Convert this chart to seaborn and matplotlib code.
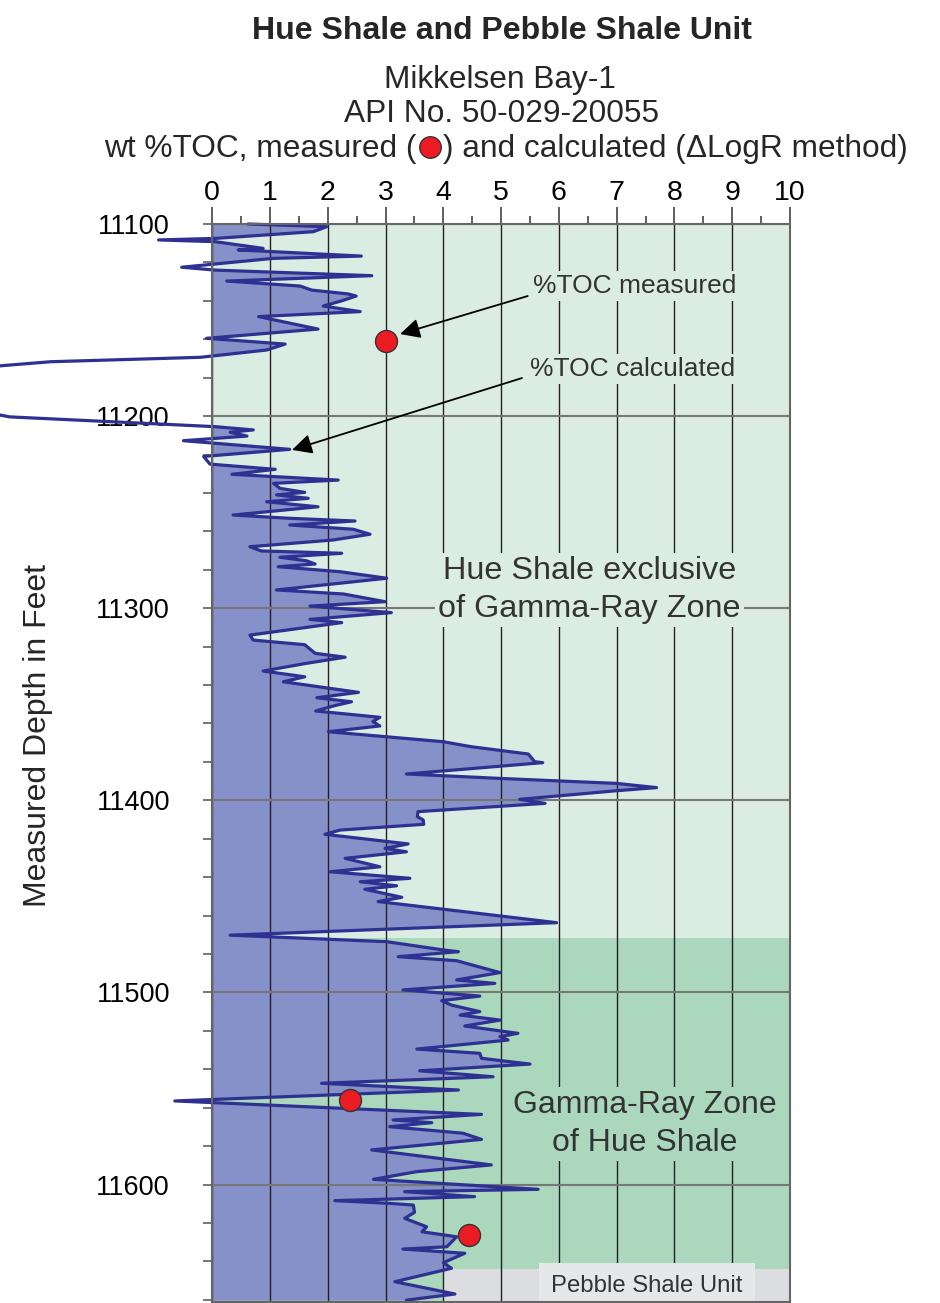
import matplotlib
matplotlib.use("Agg")
import matplotlib.pyplot as plt
import seaborn as sns
from matplotlib.lines import Line2D
from matplotlib.ticker import MultipleLocator

depth = [11100.0, 11101.4, 11104.0, 11107.5, 11108.3, 11109.2, 11112.7, 11113.5, 11116.7, 11117.9,
         11122.5, 11124.0, 11126.9, 11129.7, 11132.3, 11134.4, 11136.4, 11137.5, 11140.0, 11142.7,
         11145.6, 11148.2, 11154.7, 11159.5, 11162.5, 11165.6, 11169.4, 11171.7, 11173.9, 11186.0,
         11200.4, 11205.5, 11207.2, 11208.4, 11210.4, 11212.8, 11217.3, 11221.0, 11225.0, 11227.7,
         11230.3, 11233.3, 11235.0, 11237.6, 11239.7, 11241.0, 11242.8, 11244.6, 11247.2, 11251.5,
         11253.2, 11254.6, 11256.7, 11258.9, 11261.5, 11264.5, 11268.0, 11270.2, 11271.4, 11273.5,
         11275.3, 11277.0, 11278.4, 11281.0, 11284.4, 11290.5, 11292.6, 11296.6, 11298.9, 11302.3,
         11305.8, 11307.5, 11314.0, 11316.6, 11319.0, 11323.5, 11325.5, 11328.7, 11332.7, 11335.7,
         11338.3, 11343.8, 11346.6, 11348.7, 11350.7, 11353.5, 11356.8, 11359.0, 11361.3, 11364.3,
         11369.5, 11372.0, 11375.9, 11379.9, 11380.4, 11386.3, 11388.6, 11391.2, 11393.4, 11395.0,
         11399.5, 11401.6, 11405.0, 11405.9, 11408.5, 11410.2, 11412.5, 11415.5, 11417.7, 11422.7,
         11425.0, 11426.8, 11430.2, 11434.6, 11437.2, 11440.6, 11442.4, 11444.5, 11446.3, 11450.5,
         11452.7, 11457.9, 11463.7, 11470.2, 11473.6, 11477.9, 11478.8, 11481.4, 11483.5, 11489.7,
         11493.5, 11495.3, 11498.7, 11501.9, 11504.3, 11506.6, 11510.0, 11511.8, 11514.4, 11517.5,
         11521.3, 11523.0, 11524.8, 11529.5, 11531.7, 11534.3, 11537.3, 11540.8, 11543.9, 11547.3,
         11550.8, 11556.5, 11563.5, 11566.4, 11567.8, 11569.9, 11573.3, 11576.5, 11582.0, 11589.8,
         11593.3, 11597.3, 11602.5, 11603.7, 11606.3, 11608.4, 11609.8, 11610.7, 11614.5, 11617.6,
         11622.0, 11624.6, 11627.2, 11632.4, 11633.6, 11635.8, 11640.7, 11643.6, 11650.6, 11655.8,
         11657.0, 11660.2]
toc_calc = [0.62, 1.98, 1.75, 0.05, -0.93, 0.05, 0.88, 0.45, 2.58, 1.05,
            -0.53, 0.05, 2.76, 0.25, 1.52, 1.72, 2.35, 2.49, 2.24, 1.92,
            2.56, 0.80, 1.83, -0.10, 1.26, 0.94, -0.21, -2.80, -3.70, -6.00,
            -3.51, 0.05, 0.71, 0.31, 0.60, -0.50, 1.34, -0.15, -0.04, 1.09,
            0.34, 2.18, 1.06, 1.17, 1.60, 1.11, 1.66, 0.94, 1.83, 0.36,
            1.34, 2.47, 1.34, 2.44, 2.73, 2.09, 0.65, 0.85, 2.24, 1.17,
            1.63, 1.78, 1.14, 2.21, 3.02, 1.11, 2.27, 2.99, 1.69, 3.10,
            1.69, 2.24, 0.65, 0.71, 1.60, 1.78, 2.30, 1.63, 0.88, 1.60,
            1.23, 2.53, 1.81, 2.41, 2.12, 1.79, 2.90, 2.78, 2.90, 2.01,
            4.00, 4.46, 5.47, 5.58, 5.72, 3.36, 4.98, 7.00, 7.69, 7.00,
            5.32, 5.76, 4.00, 3.56, 3.55, 3.65, 3.66, 2.21, 1.95, 3.39,
            2.99, 3.36, 2.30, 2.90, 2.04, 3.42, 2.56, 3.19, 2.64, 3.28,
            2.87, 4.34, 5.96, 0.31, 3.02, 4.00, 4.26, 3.22, 4.23, 4.98,
            4.23, 4.89, 3.30, 4.63, 3.97, 4.14, 4.63, 4.29, 4.98, 4.37,
            5.29, 4.98, 5.12, 3.54, 4.63, 4.66, 5.50, 3.59, 4.86, 1.89,
            4.26, -0.65, 4.66, 3.13, 3.80, 3.07, 4.34, 4.66, 2.76, 4.83,
            3.54, 2.79, 5.64, 3.33, 4.54, 2.12, 3.07, 3.48, 3.50, 3.33,
            3.71, 3.63, 4.23, 4.06, 3.30, 4.37, 4.00, 4.14, 3.16, 4.00,
            4.20, 3.36]

# measured %TOC samples
meas_depth = [11160.9, 11556.0, 11626.3]
toc_meas = [3.0, 2.38, 4.44]

x_ticks = list(range(0, 11))
depth_ticks = [11100, 11200, 11300, 11400, 11500, 11600]
depth_top, depth_bottom = 11100, 11661
gr_zone_top = 11471.5
pebble_top = 11644

LIGHT = "#dbece2"
DARK = "#abd8bd"
GRAY = "#dcdde0"
FILL = "#8591c8"
LINE = "#2e3192"
RED = "#ed1c24"

sns.set_theme(style="white")
plt.rcParams["font.family"] = ["Liberation Sans", "DejaVu Sans"]

fig = plt.figure(figsize=(9.4, 13.03), dpi=100)
ax = fig.add_axes([212.3 / 940, 1 - 1301.7 / 1303, (790 - 212.3) / 940, (1301.7 - 224) / 1303])

# zone backgrounds
ax.axhspan(depth_top, gr_zone_top, color=LIGHT, lw=0, zorder=0)
ax.axhspan(gr_zone_top, depth_bottom, color=DARK, lw=0, zorder=0)
ax.fill_between([4, 10], pebble_top, depth_bottom, color=GRAY, lw=0, zorder=0.5)

# calculated TOC curve
ax.fill_betweenx(depth, 0, toc_calc, color=FILL, lw=0, zorder=1)
sns.lineplot(x=toc_calc, y=depth, sort=False, estimator=None, orient="y",
             color=LINE, lw=2.3, ax=ax, zorder=3)
ax.lines[-1].set_clip_on(False)

# measured TOC
sns.scatterplot(x=toc_meas, y=meas_depth, s=250, color=RED, edgecolor="#333333",
                linewidth=1.0, ax=ax, zorder=4)

ax.set_xlim(0, 10)
ax.set_ylim(depth_bottom, depth_top)

ax.xaxis.tick_top()
ax.set_xticks(x_ticks)
ax.xaxis.set_minor_locator(MultipleLocator(0.5))
ax.set_yticks(depth_ticks)
ax.set_yticklabels([str(d) for d in depth_ticks])
ax.yaxis.set_minor_locator(MultipleLocator(20))

ax.tick_params(axis="x", which="major", top=True, bottom=False, length=12, width=1.2,
               color="#444444", pad=1, labelsize=20.5, labelcolor="black")
ax.tick_params(axis="x", which="minor", top=True, bottom=False, length=6, width=1.2,
               color="#444444")
ax.tick_params(axis="y", which="both", left=True, right=False, length=6.5, width=1.4,
               color="#777777", pad=24, labelsize=19.5, labelcolor="black")

ax.set_axisbelow(False)
ax.xaxis.grid(True, which="major", color="#222222", lw=1.0)
ax.yaxis.grid(True, which="major", color="#777777", lw=1.5)
ax.set_xlabel("")
ax.set_ylabel("")

for side in ["top", "bottom", "left", "right"]:
    ax.spines[side].set_color("#666666")
    ax.spines[side].set_linewidth(1.5)
    ax.spines[side].set_zorder(5)

# labels inside the plot
ax.text(6.53, 11290.5, "Hue Shale exclusive\nof Gamma-Ray Zone", ha="center", va="center",
        fontsize=23.3, color="#333333", linespacing=1.32, zorder=4,
        bbox=dict(fc=LIGHT, ec="none", pad=2))
ax.text(7.49, 11568.5, "Gamma-Ray Zone\nof Hue Shale", ha="center", va="center",
        fontsize=23, color="#333333", linespacing=1.32, zorder=4,
        bbox=dict(fc=DARK, ec="none", pad=2))
ax.text(7.52, 11653.0, "Pebble Shale Unit", ha="center", va="center",
        fontsize=17.2, color="#333333", zorder=4,
        bbox=dict(fc="#e6e7e9", ec="none", pad=9))

ax.text(5.55, 11132.3, "%TOC measured", ha="left", va="center", fontsize=19,
        color="#333333", zorder=4, bbox=dict(fc=LIGHT, ec="none", pad=2))
ax.text(5.50, 11175.5, "%TOC calculated", ha="left", va="center", fontsize=19,
        color="#333333", zorder=4, bbox=dict(fc=LIGHT, ec="none", pad=2))
arrow = dict(arrowstyle="-|>", color="black", lw=1.3, mutation_scale=30, shrinkA=0, shrinkB=0)
ax.annotate("", xy=(3.25, 11157.3), xytext=(5.46, 11137.5), arrowprops=arrow, zorder=4)
ax.annotate("", xy=(1.38, 11217.6), xytext=(5.36, 11180.2), arrowprops=arrow, zorder=4)

# titles
fig.text(502 / 940, 1 - 31 / 1303, "Hue Shale and Pebble Shale Unit", ha="center", va="center",
         fontsize=23, fontweight="bold")
fig.text(500 / 940, 1 - 80 / 1303, "Mikkelsen Bay-1", ha="center", va="center", fontsize=22.8)
fig.text(502 / 940, 1 - 114 / 1303, "API No. 50-029-20055", ha="center", va="center", fontsize=22.8)

renderer = fig.canvas.get_renderer()
part1 = "wt %TOC, measured ("
part2 = ") and calculated (\u0394LogR method)"
t1 = fig.text(0, 1 - 149 / 1303, part1, ha="left", va="center", fontsize=22.8)
t2 = fig.text(0, 1 - 149 / 1303, part2, ha="left", va="center", fontsize=22.8)
w1 = t1.get_window_extent(renderer).width
w2 = t2.get_window_extent(renderer).width
gap = 26
x0 = 506 - (w1 + gap + w2) / 2
t1.set_x(x0 / 940)
t2.set_x((x0 + w1 + gap) / 940)
fig.add_artist(Line2D([(x0 + w1 + gap / 2) / 940], [1 - 147 / 1303], marker="o", markersize=15.5,
                      color=RED, markeredgecolor="#333333", markeredgewidth=1.0,
                      transform=fig.transFigure))

fig.text(38 / 940, 1 - 735 / 1303, "Measured Depth in Feet", rotation=90, ha="center",
         va="center", fontsize=23)

fig.savefig("out.png", dpi=100)
